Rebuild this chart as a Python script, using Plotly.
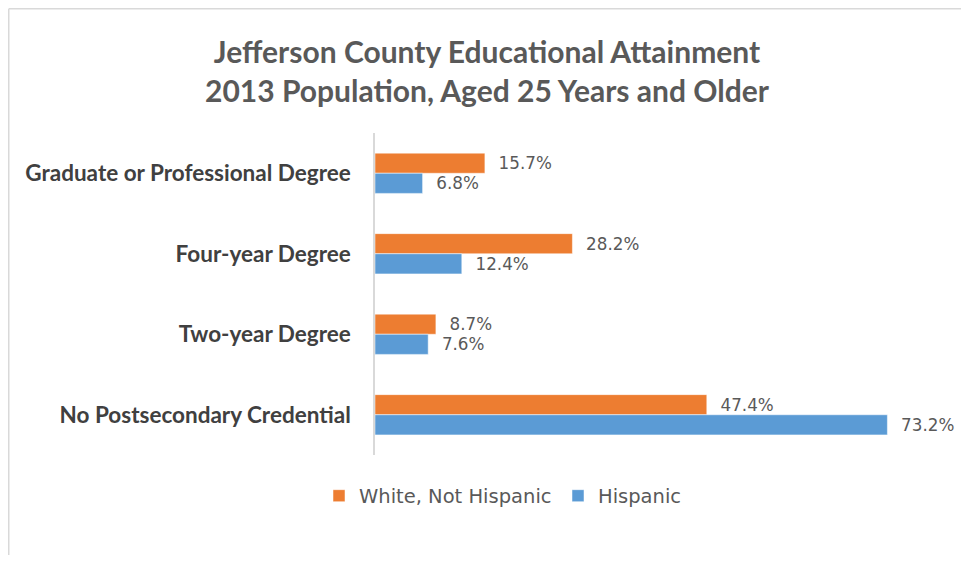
import plotly.graph_objects as go

categories = ["Graduate or Professional Degree", "Four-year Degree", "Two-year Degree", "No Postsecondary Credential"]
white_not_hispanic = [15.7, 28.2, 8.7, 47.4]
hispanic = [6.8, 12.4, 7.6, 73.2]
series_names = ["White, Not Hispanic", "Hispanic"]
colors = ["#ED7D31", "#5B9BD5"]

# page body has an 8px margin, so the figure is drawn from (8, 8)
W, H = 953, 547
ml, mr, mt, mb = 367, 26, 125, 100

fig = go.Figure()
for name, vals, col in zip(series_names, [white_not_hispanic, hispanic], colors):
    fig.add_trace(go.Bar(
        y=categories, x=vals, name=name, orientation="h",
        marker=dict(color=col, line=dict(color="white", width=0.5)),
        text=["  %.1f%%" % v for v in vals], textposition="outside",
        textfont=dict(family="DejaVu Sans", size=20, color="#595959"),
        cliponaxis=False,
    ))

pw = W - ml - mr
ph = H - mt - mb
xl = (0.75 - ml) / pw
yt = 1 + (mt - 0.75) / ph
# top and left edges of the chart frame
fig.add_shape(type="line", xref="paper", yref="paper", x0=xl, x1=(W - ml) / pw, y0=yt, y1=yt,
              line=dict(color="#d9d9d9", width=1.5), layer="below")
fig.add_shape(type="line", xref="paper", yref="paper", x0=xl, x1=xl, y0=-mb / ph, y1=yt,
              line=dict(color="#d9d9d9", width=1.5), layer="below")

fig.update_layout(
    width=W, height=H,
    margin=dict(l=ml, r=mr, t=mt, b=mb, autoexpand=False),
    paper_bgcolor="white", plot_bgcolor="white",
    barmode="group", bargap=0.5, bargroupgap=0,
    title=dict(text="Jefferson County Educational Attainment<br>2013 Population, Aged 25 Years and Older",
               x=479 / W, xanchor="center", xref="container", y=1 - 55 / H, yanchor="top", yref="container",
               font=dict(family="Lato, Calibri, sans-serif", size=30, color="#595959", weight="bold")),
    xaxis=dict(range=[0, 80], showgrid=False, zeroline=False, showticklabels=False, showline=False,
               automargin=False),
    yaxis=dict(autorange="reversed", showline=True, linecolor="#d9d9d9", linewidth=1.5,
               ticks="", ticklabelstandoff=18, automargin=False,
               tickfont=dict(family="Lato, Calibri, sans-serif", size=22.5, color="#404040", weight="bold")),
    legend=dict(orientation="h", xref="container", x=311 / W, xanchor="left",
                yref="container", y=1 - 488 / H, yanchor="middle",
                entrywidth=194, entrywidthmode="pixels",
                font=dict(family="DejaVu Sans", size=19.5, color="#595959")),
    showlegend=True,
)

fig.write_html("out.html")
